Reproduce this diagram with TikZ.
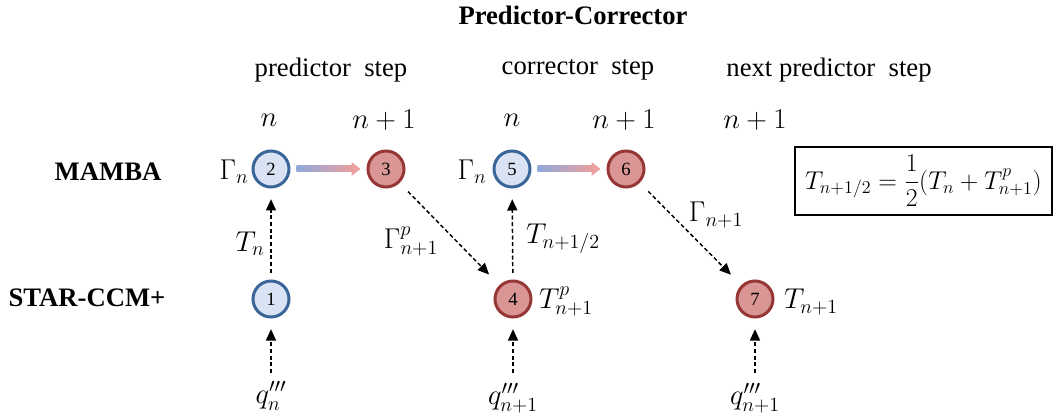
\RequirePackage{fix-cm}
\documentclass[tikz,border=0pt]{standalone}
\usepackage{fontspec}
\setmainfont{Liberation Serif}
\usetikzlibrary{arrows.meta,calc}
\definecolor{bfill}{HTML}{DAE3F3}
\definecolor{bdraw}{HTML}{3A6599}
\definecolor{rfill}{HTML}{D99694}
\definecolor{rdraw}{HTML}{953735}
\definecolor{gblue}{HTML}{8FAADC}
\definecolor{gred}{HTML}{E9A0A0}
\begin{document}
\begin{tikzpicture}[x=0.75pt,y=-0.75pt,
  txt/.style={font=\fontsize{20}{24}\selectfont, inner sep=0pt},
  mtxt/.style={font=\fontsize{21.5}{26}\selectfont, inner sep=0pt},
  bnode/.style={circle, draw=bdraw, fill=bfill, line width=2.25pt, minimum size=27pt, inner sep=0pt, font=\fontsize{14}{16}\selectfont},
  rnode/.style={circle, draw=rdraw, fill=rfill, line width=2.25pt, minimum size=27pt, inner sep=0pt, font=\fontsize{14}{16}\selectfont},
  dasharrow/.style={line width=1.1pt, dash pattern=on 3pt off 2pt, -{Triangle[length=8.5pt,width=7.5pt]}},
  eqbox/.style={draw, line width=1.1pt, minimum width=193pt, minimum height=51pt, inner sep=0pt, font=\fontsize{19.3}{23}\selectfont}]
\useasboundingbox (0,0) rectangle (1061,417);

% title and column headers
\node[txt, font=\fontsize{20}{24}\selectfont\bfseries] (title) at (573,15) {Predictor-Corrector};
\node[txt] (h1) at (331,70) {predictor\ \ step};
\node[txt] (h2) at (578,70) {corrector\ \ step};
\node[txt] (h3) at (829,70) {next predictor\ \ step};

\node[mtxt] (t1) at (269,120) {$n$};
\node[mtxt] (t2) at (384,120) {$n+1$};
\node[mtxt] (t3) at (512,120) {$n$};
\node[mtxt] (t4) at (624,120) {$n+1$};
\node[mtxt] (t5) at (755,120) {$n+1$};

% row labels
\node[txt, font=\fontsize{20}{24}\selectfont\bfseries] (mamba) at (108,172) {MAMBA};
\node[txt, font=\fontsize{20}{24}\selectfont\bfseries] (star) at (87,298) {STAR-CCM+};

% nodes
\node[bnode] (n1) at (271,299) {1};
\node[bnode] (n2) at (271,169) {2};
\node[rnode] (n3) at (386,169) {3};
\node[rnode] (n4) at (513,299) {4};
\node[bnode] (n5) at (512,169) {5};
\node[rnode] (n6) at (626,169) {6};
\node[rnode] (n7) at (755,299) {7};

% node side labels
\node[mtxt] (g2) at (234,172) {$\Gamma_n$};
\node[mtxt] (g5) at (472,172) {$\Gamma_n$};
\node[mtxt] (l4) at (566,301) {$T^p_{n+1}$};
\node[mtxt] (l7) at (811,302) {$T_{n+1}$};

% gradient arrows
\shade[left color=gblue, right color=gred] ($(n2.east)+(6,-3)$) rectangle ($(n3.west)+(-14,3)$);
\fill[gred] ($(n3.west)+(-15,-7)$) -- ($(n3.west)+(-6,0)$) -- ($(n3.west)+(-15,7)$) -- cycle;
\shade[left color=gblue, right color=gred] ($(n5.east)+(6,-3)$) rectangle ($(n6.west)+(-14,3)$);
\fill[gred] ($(n6.west)+(-15,-7)$) -- ($(n6.west)+(-6,0)$) -- ($(n6.west)+(-15,7)$) -- cycle;

% dashed connectors
\draw[dasharrow, shorten <=5pt, shorten >=8pt] (n1) -- (n2);
\draw[dasharrow, shorten <=5pt, shorten >=8pt] (n4) -- (n5);
\draw[dasharrow, shorten <=9pt, shorten >=11pt] (n3) -- (n4);
\draw[dasharrow, shorten <=9pt, shorten >=11pt] (n6) -- (n7);

\node[mtxt] (lTn) at (250,244) {$T_n$};
\node[mtxt] (lG3) at (411,241) {$\Gamma^p_{n+1}$};
\node[mtxt] (lT5) at (563,239) {$T_{n+1/2}$};
\node[mtxt] (lG6) at (716,215) {$\Gamma_{n+1}$};

% heat source inputs
\coordinate (s1) at (271,373);
\coordinate (s4) at (513,373);
\coordinate (s7) at (755,373);
\draw[dasharrow, shorten >=8pt] (s1) -- (n1);
\draw[dasharrow, shorten >=8pt] (s4) -- (n4);
\draw[dasharrow, shorten >=8pt] (s7) -- (n7);
\node[mtxt] (q1) at (271,396) {$q_n'''$};
\node[mtxt] (q4) at (513,398) {$q_{n+1}'''$};
\node[mtxt] (q7) at (755,398) {$q_{n+1}'''$};

% equation box
\node[eqbox] (eq) at (923.5,181) {$T_{n+1/2}={\displaystyle\frac{1}{2}}\bigl(T_n+T^p_{n+1}\bigr)$};
\end{tikzpicture}
\end{document}
